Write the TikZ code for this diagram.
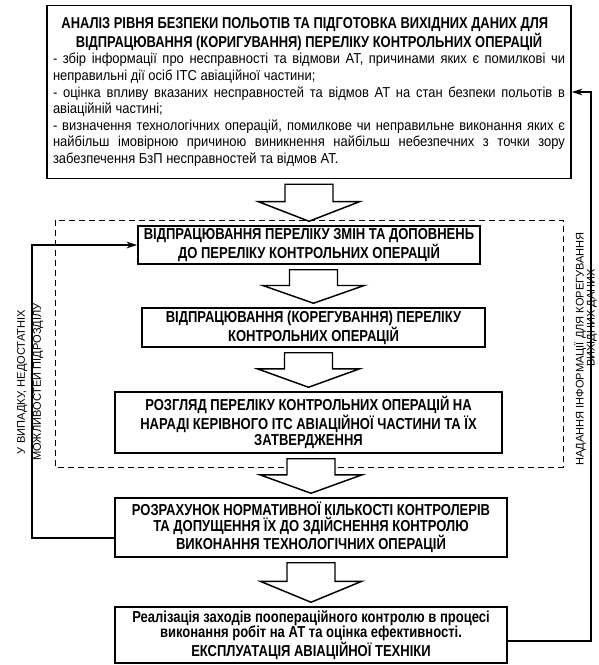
\documentclass[tikz,border=0pt]{standalone}
\usepackage{fontspec}
\setmainfont{Liberation Sans}
\newfontfamily\narrowfont[FakeStretch=0.82]{Liberation Sans}
\newfontfamily\bodyfont[FakeStretch=0.9]{Liberation Sans}
\usetikzlibrary{calc, arrows.meta}
\hyphenpenalty=10000
\exhyphenpenalty=10000
\tikzset{
	stage/.style={draw, line width=1.125pt, fill=white, align=center, inner sep=1pt, font=\narrowfont\bfseries\fontsize{11.9}{11.6}\selectfont},
	infobox/.style={draw, line width=1.125pt, fill=white, align=justify, text width=384pt, inner xsep=4.5pt, minimum height=129.75pt, font=\bodyfont\fontsize{10.8}{12.45}\selectfont},
	blockarr/.style={draw, line width=1.1pt, fill=white, line join=miter},
	backline/.style={line width=1.5pt, -{Stealth[length=8pt, width=5pt]}},
	sidelabel/.style={align=center, inner sep=0pt, font=\fontsize{8.3}{12}\selectfont}
}

\begin{document}
\begin{tikzpicture}[x=0.75pt, y=-0.75pt]
	\useasboundingbox (0,0) rectangle (599,665);
	
	\node[infobox] (analysis) at (309,92) {%
		{\centering\narrowfont\bfseries\fontsize{11.8}{12.8}\selectfont АНАЛІЗ РІВНЯ БЕЗПЕКИ ПОЛЬОТІВ ТА ПІДГОТОВКА ВИХІДНИХ ДАНИХ ДЛЯ\newline ВІДПРАЦЮВАННЯ (КОРИГУВАННЯ) ПЕРЕЛІКУ КОНТРОЛЬНИХ ОПЕРАЦІЙ\par}
		- збір інформації про несправності та відмови АТ, причинами яких є помилкові чи\linebreak неправильні дії осіб ІТС авіаційної частини;\par
		- оцінка впливу вказаних несправностей та відмов АТ на стан безпеки польотів в\linebreak авіаційній частині;\par
		- визначення технологічних операцій, помилкове чи неправильне виконання яких є\linebreak найбільш імовірною причиною виникнення найбільш небезпечних з точки зору\linebreak забезпечення БзП несправностей та відмов АТ.};
	
	\node[stage, minimum width=256.5pt, minimum height=28.5pt] (lista) at (309,245) {ВІДПРАЦЮВАННЯ ПЕРЕЛІКУ ЗМІН ТА ДОПОВНЕНЬ\\ДО ПЕРЕЛІКУ КОНТРОЛЬНИХ ОПЕРАЦІЙ};
	\node[stage, minimum width=257.25pt, minimum height=29.25pt] (listb) at (313.5,327.5) {ВІДПРАЦЮВАННЯ (КОРЕГУВАННЯ) ПЕРЕЛІКУ\\КОНТРОЛЬНИХ ОПЕРАЦІЙ};
	\node[stage, minimum width=290.25pt, minimum height=45.75pt] (review) at (308.5,422.5) {РОЗГЛЯД ПЕРЕЛІКУ КОНТРОЛЬНИХ ОПЕРАЦІЙ НА\\НАРАДІ КЕРІВНОГО ІТС АВІАЦІЙНОЇ ЧАСТИНИ ТА ЇХ\\ЗАТВЕРДЖЕННЯ};
	\node[stage, minimum width=294pt, minimum height=44.25pt] (staff) at (311,527.5) {РОЗРАХУНОК НОРМАТИВНОЇ КІЛЬКОСТІ КОНТРОЛЕРІВ\\ТА ДОПУЩЕННЯ ЇХ ДО ЗДІЙСНЕННЯ КОНТРОЛЮ\\ВИКОНАННЯ ТЕХНОЛОГІЧНИХ ОПЕРАЦІЙ};
	\node[stage, minimum width=294pt, minimum height=42pt] (control) at (311,635) {Реалізація заходів пооперацiйного контролю в процесі\\виконання робіт на АТ та оцінка ефективності.\\ЕКСПЛУАТАЦІЯ АВІАЦІЙНОЇ ТЕХНІКИ};
	
	\draw[line width=0.75pt, dash pattern=on 4.5pt off 3pt] (55,220) rectangle (563,467);
	
	\node[sidelabel, rotate=90] (lackL) at (30,382) {У ВИПАДКУ, НЕДОСТАТНІХ\\МОЖЛИВОСТЕЙ ПІДРОЗДІЛУ};
	\node[sidelabel, rotate=90] (infoR) at (580,349) {НАДАННЯ ІНФОРМАЦІЇ ДЛЯ КОРЕГУВАННЯ};
	\node[sidelabel, rotate=90] (infoRb) at (592,318) {ВИХІДНИХ ДАНИХ};
	
	\coordinate (backL) at (32,538);
	\coordinate (backR) at (591,641);
	
	\draw[backline] (staff.west |- backL) -- (backL) |- (lista.west);
	\draw[backline] (control.east |- backR) -- (backR) |- (analysis.east);
	
	\foreach \from/\to in {analysis/lista, lista/listb, listb/review, review/staff, staff/control} {
		\coordinate (s0) at (\to.north |- \from.south);
		\coordinate (s) at ([yshift=-3.75pt]s0);
		\coordinate (t) at ([yshift=3pt]\to.north);
		\coordinate (m) at ($(s)!0.47!(t)$);
		\draw[blockarr] ([xshift=-18pt]s) -- ([xshift=18pt]s) -- ([xshift=18pt]m) -- ([xshift=38pt]m) -- (t) -- ([xshift=-38pt]m) -- ([xshift=-18pt]m) -- cycle;
	}
\end{tikzpicture}
\end{document}
